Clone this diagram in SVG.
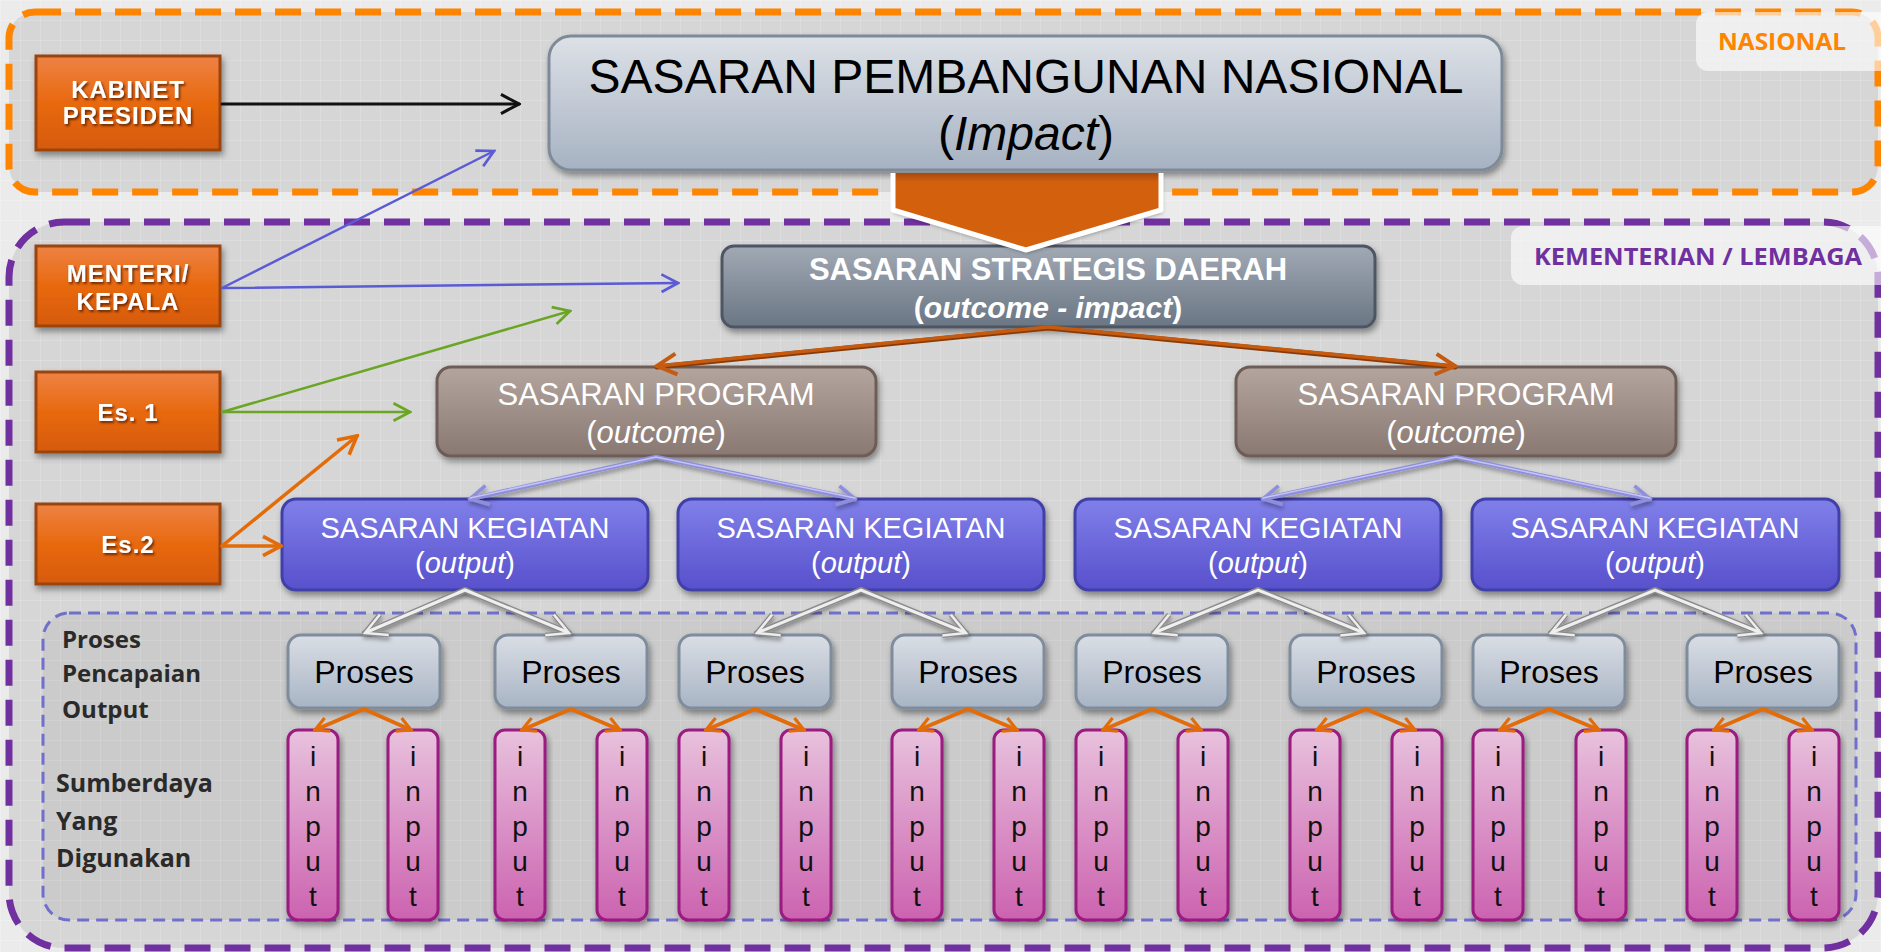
<svg xmlns="http://www.w3.org/2000/svg" width="1881" height="952" viewBox="0 0 1881 952">
<defs>
  <linearGradient id="gBig" x1="0" y1="0" x2="0" y2="1"><stop offset="0" stop-color="#dde1e7"/><stop offset="1" stop-color="#a6b2c2"/></linearGradient>
  <linearGradient id="gSSD" x1="0" y1="0" x2="0" y2="1"><stop offset="0" stop-color="#a1a9b4"/><stop offset="1" stop-color="#6a7684"/></linearGradient>
  <linearGradient id="gProg" x1="0" y1="0" x2="0" y2="1"><stop offset="0" stop-color="#b4a59e"/><stop offset="1" stop-color="#887871"/></linearGradient>
  <linearGradient id="gKeg" x1="0" y1="0" x2="0" y2="1"><stop offset="0" stop-color="#8080ea"/><stop offset="1" stop-color="#5850cc"/></linearGradient>
  <linearGradient id="gProc" x1="0" y1="0" x2="0" y2="1"><stop offset="0" stop-color="#dadee5"/><stop offset="1" stop-color="#a8b4c4"/></linearGradient>
  <linearGradient id="gIn" x1="0" y1="0" x2="0" y2="1"><stop offset="0" stop-color="#e8c2dd"/><stop offset="1" stop-color="#cc62b0"/></linearGradient>
  <linearGradient id="gOr" x1="0" y1="0" x2="0" y2="1"><stop offset="0" stop-color="#ee8244"/><stop offset="0.5" stop-color="#e8690f"/><stop offset="1" stop-color="#d65a08"/></linearGradient>
  <linearGradient id="gChev" x1="0" y1="0" x2="0" y2="1"><stop offset="0" stop-color="#a84a08"/><stop offset="0.12" stop-color="#d2600e"/><stop offset="1" stop-color="#d4620f"/></linearGradient>
  <pattern id="grid" width="20" height="20" patternUnits="userSpaceOnUse"><path d="M20 0H0V20" fill="none" stroke="#ffffff" stroke-opacity="0.35" stroke-width="1"/></pattern>
  <filter id="sh" x="-10%" y="-10%" width="125%" height="140%"><feDropShadow dx="2" dy="4" stdDeviation="3" flood-color="#000" flood-opacity="0.4"/></filter>
  <filter id="lsh" x="-10%" y="-20%" width="120%" height="160%"><feDropShadow dx="1" dy="3" stdDeviation="2" flood-color="#000" flood-opacity="0.35"/></filter>
  <filter id="tsh" x="-10%" y="-20%" width="120%" height="150%"><feDropShadow dx="1.5" dy="2" stdDeviation="1" flood-color="#4a1a00" flood-opacity="0.8"/></filter>
  <marker id="mBlack" viewBox="0 0 20 20" refX="18" refY="10" markerWidth="24" markerHeight="24" markerUnits="userSpaceOnUse" orient="auto"><path d="M3,2 L18,10 L3,18" fill="none" stroke="#111" stroke-width="2.5"/></marker>
  <marker id="mBlue" viewBox="0 0 20 20" refX="18" refY="10" markerWidth="22" markerHeight="22" markerUnits="userSpaceOnUse" orient="auto"><path d="M3,2 L18,10 L3,18" fill="none" stroke="#5b5bd6" stroke-width="2.5"/></marker>
  <marker id="mGreen" viewBox="0 0 20 20" refX="18" refY="10" markerWidth="22" markerHeight="22" markerUnits="userSpaceOnUse" orient="auto"><path d="M3,2 L18,10 L3,18" fill="none" stroke="#6aa624" stroke-width="2.5"/></marker>
  <marker id="mOr" viewBox="0 0 20 20" refX="18" refY="10" markerWidth="24" markerHeight="24" markerUnits="userSpaceOnUse" orient="auto"><path d="M3,2 L18,10 L3,18" fill="none" stroke="#e36c09" stroke-width="3"/></marker>
  <marker id="mOrS" viewBox="0 0 20 20" refX="18" refY="10" markerWidth="18" markerHeight="18" markerUnits="userSpaceOnUse" orient="auto"><path d="M3,2 L18,10 L3,18" fill="none" stroke="#e36c09" stroke-width="3.5"/></marker>
  <marker id="mBrown" viewBox="0 0 20 20" refX="18" refY="10" markerWidth="26" markerHeight="26" markerUnits="userSpaceOnUse" orient="auto"><path d="M3,2 L18,10 L3,18" fill="none" stroke="#c55a11" stroke-width="3"/></marker>
  <marker id="mLav" viewBox="0 0 20 20" refX="18" refY="10" markerWidth="24" markerHeight="24" markerUnits="userSpaceOnUse" orient="auto"><path d="M3,2 L18,10 L3,18" fill="none" stroke="#8e8edc" stroke-width="3"/></marker>
  <marker id="mSil" viewBox="0 0 20 20" refX="18" refY="10" markerWidth="28" markerHeight="28" markerUnits="userSpaceOnUse" orient="auto"><path d="M3,2 L18,10 L3,18" fill="none" stroke="#8a8a8a" stroke-width="3.6"/><path d="M3,2 L18,10 L3,18" fill="none" stroke="#ededed" stroke-width="1.8"/></marker>
</defs>
<style>
  .orng{fill:url(#gOr);stroke:#9b4510;stroke-width:3;filter:url(#sh)}
  .otxt{font-family:"Liberation Sans",Arial,sans-serif;font-weight:bold;font-size:24px;fill:#fff;text-anchor:middle;filter:url(#tsh);letter-spacing:1px}
  .lbl{font-family:"Open Sans","Liberation Sans",sans-serif;font-weight:bold;fill:#2a2a2a}
  .sans{font-family:"Liberation Sans",Arial,sans-serif;text-anchor:middle}
  .keg{fill:url(#gKeg);stroke:#4040a8;stroke-width:3;filter:url(#sh)}
  .prog{fill:url(#gProg);stroke:#6d5d57;stroke-width:3;filter:url(#sh)}
  .proc{fill:url(#gProc);stroke:#7f8c9c;stroke-width:3;filter:url(#sh)}
  .inp{fill:url(#gIn);stroke:#9a1a80;stroke-width:3;filter:url(#sh)}
  .wt{fill:#fff}
  .itxt{font-family:"Liberation Sans",Arial,sans-serif;font-size:28px;fill:#111;text-anchor:middle}
  .ln{fill:none;stroke-linecap:round}
</style>

<!-- background -->
<rect x="0" y="0" width="1881" height="952" fill="#ebebeb"/>
<rect x="9" y="12" width="1869" height="180" rx="26" fill="#d6d6d6"/>
<rect x="9" y="222" width="1869" height="726" rx="55" fill="#d6d6d6"/>
<rect x="0" y="0" width="1881" height="952" fill="url(#grid)"/>
<rect x="43" y="613" width="1813" height="307" rx="26" fill="#000" fill-opacity="0.05" stroke="#7070cc" stroke-width="3" stroke-dasharray="12 7"/>

<!-- regions -->
<g id="region-nasional">
  <rect x="9" y="12" width="1869" height="180" rx="26" fill="none" stroke="#ff8400" stroke-width="7" stroke-dasharray="26 14"/>
  <rect x="1696" y="12" width="200" height="59" rx="12" fill="#ffffff" fill-opacity="0.6"/>
  <text x="1782" y="50" font-family="'Open Sans','Liberation Sans',sans-serif" font-weight="bold" font-size="24" fill="#ff8400" text-anchor="middle" textLength="128" lengthAdjust="spacingAndGlyphs">NASIONAL</text>
</g>
<g id="region-kl">
  <rect x="9" y="222" width="1869" height="726" rx="55" fill="none" stroke="#7030a0" stroke-width="7" stroke-dasharray="26 14"/>
  <rect x="1511" y="226" width="390" height="59" rx="12" fill="#ffffff" fill-opacity="0.6"/>
  <text x="1698" y="265" font-family="'Open Sans','Liberation Sans',sans-serif" font-weight="bold" font-size="24" fill="#7030a0" text-anchor="middle" textLength="328" lengthAdjust="spacingAndGlyphs">KEMENTERIAN / LEMBAGA</text>
</g>

<!-- left actors -->
<g id="kabinet"><rect class="orng" x="36" y="56" width="184" height="94"/><text class="otxt" x="128" y="98">KABINET</text><text class="otxt" x="128" y="124">PRESIDEN</text></g>
<g id="menteri"><rect class="orng" x="36" y="246" width="184" height="80"/><text class="otxt" x="128" y="282">MENTERI/</text><text class="otxt" x="128" y="310">KEPALA</text></g>
<g id="es1"><rect class="orng" x="36" y="372" width="184" height="80"/><text class="otxt" x="128" y="421" font-size="26">Es. 1</text></g>
<g id="es2"><rect class="orng" x="36" y="504" width="184" height="80"/><text class="otxt" x="128" y="553" font-size="26">Es.2</text></g>

<!-- row labels -->
<g id="label-proses">
  <text class="lbl" x="62" y="648" font-size="24">Proses</text>
  <text class="lbl" x="62" y="682" font-size="24">Pencapaian</text>
  <text class="lbl" x="62" y="718" font-size="24">Output</text>
</g>
<g id="label-sumberdaya">
  <text class="lbl" x="56" y="792" font-size="25">Sumberdaya</text>
  <text class="lbl" x="56" y="830" font-size="25">Yang</text>
  <text class="lbl" x="56" y="867" font-size="25">Digunakan</text>
</g>

<!-- main nodes -->
<g id="sasaran-nasional">
  <rect x="549" y="36" width="953" height="134" rx="22" fill="url(#gBig)" stroke="#7f8a99" stroke-width="3" filter="url(#sh)"/>
  <text class="sans" x="1026" y="93" font-size="48" fill="#000">SASARAN PEMBANGUNAN NASIONAL</text>
  <text class="sans" x="1026" y="150" font-size="48" fill="#000">(<tspan font-style="italic">Impact</tspan>)</text>
</g>
<g id="sasaran-strategis">
  <rect x="722" y="246" width="653" height="81" rx="12" fill="url(#gSSD)" stroke="#4f5763" stroke-width="3" filter="url(#sh)"/>
  <text class="sans wt" x="1048" y="280" font-size="31" font-weight="bold">SASARAN STRATEGIS DAERAH</text>
  <text class="sans wt" x="1048" y="318" font-size="30" font-weight="bold">(<tspan font-style="italic">outcome - impact</tspan>)</text>
</g>
<g id="program-1">
  <rect class="prog" x="437" y="367" width="439" height="89" rx="14"/>
  <text class="sans wt" x="656" y="405" font-size="31">SASARAN PROGRAM</text>
  <text class="sans wt" x="656" y="443" font-size="31">(<tspan font-style="italic">outcome</tspan>)</text>
</g>
<g id="program-2">
  <rect class="prog" x="1236" y="367" width="440" height="89" rx="14"/>
  <text class="sans wt" x="1456" y="405" font-size="31">SASARAN PROGRAM</text>
  <text class="sans wt" x="1456" y="443" font-size="31">(<tspan font-style="italic">outcome</tspan>)</text>
</g>
<g id="kegiatan-1"><rect class="keg" x="282" y="499" width="366" height="91" rx="14"/><text class="sans wt" x="465" y="538" font-size="29">SASARAN KEGIATAN</text><text class="sans wt" x="465" y="573" font-size="29">(<tspan font-style="italic">output</tspan>)</text></g>
<g id="kegiatan-2"><rect class="keg" x="678" y="499" width="366" height="91" rx="14"/><text class="sans wt" x="861" y="538" font-size="29">SASARAN KEGIATAN</text><text class="sans wt" x="861" y="573" font-size="29">(<tspan font-style="italic">output</tspan>)</text></g>
<g id="kegiatan-3"><rect class="keg" x="1075" y="499" width="366" height="91" rx="14"/><text class="sans wt" x="1258" y="538" font-size="29">SASARAN KEGIATAN</text><text class="sans wt" x="1258" y="573" font-size="29">(<tspan font-style="italic">output</tspan>)</text></g>
<g id="kegiatan-4"><rect class="keg" x="1472" y="499" width="367" height="91" rx="14"/><text class="sans wt" x="1655" y="538" font-size="29">SASARAN KEGIATAN</text><text class="sans wt" x="1655" y="573" font-size="29">(<tspan font-style="italic">output</tspan>)</text></g>

<!-- proses -->
<g id="proses-1"><rect class="proc" x="288" y="635" width="152" height="73" rx="13"/><text class="sans" x="364" y="683" font-size="32" fill="#000">Proses</text></g>
<g id="proses-2"><rect class="proc" x="495" y="635" width="152" height="73" rx="13"/><text class="sans" x="571" y="683" font-size="32" fill="#000">Proses</text></g>
<g id="proses-3"><rect class="proc" x="679" y="635" width="152" height="73" rx="13"/><text class="sans" x="755" y="683" font-size="32" fill="#000">Proses</text></g>
<g id="proses-4"><rect class="proc" x="892" y="635" width="152" height="73" rx="13"/><text class="sans" x="968" y="683" font-size="32" fill="#000">Proses</text></g>
<g id="proses-5"><rect class="proc" x="1076" y="635" width="152" height="73" rx="13"/><text class="sans" x="1152" y="683" font-size="32" fill="#000">Proses</text></g>
<g id="proses-6"><rect class="proc" x="1290" y="635" width="152" height="73" rx="13"/><text class="sans" x="1366" y="683" font-size="32" fill="#000">Proses</text></g>
<g id="proses-7"><rect class="proc" x="1473" y="635" width="152" height="73" rx="13"/><text class="sans" x="1549" y="683" font-size="32" fill="#000">Proses</text></g>
<g id="proses-8"><rect class="proc" x="1687" y="635" width="152" height="73" rx="13"/><text class="sans" x="1763" y="683" font-size="32" fill="#000">Proses</text></g>

<!-- inputs -->
<g id="input-1"><rect class="inp" x="288" y="730" width="50" height="190" rx="10"/><text class="itxt" x="313"><tspan x="313" y="766">i</tspan><tspan x="313" y="801">n</tspan><tspan x="313" y="836">p</tspan><tspan x="313" y="871">u</tspan><tspan x="313" y="906">t</tspan></text></g>
<g id="input-2"><rect class="inp" x="388" y="730" width="50" height="190" rx="10"/><text class="itxt" x="413"><tspan x="413" y="766">i</tspan><tspan x="413" y="801">n</tspan><tspan x="413" y="836">p</tspan><tspan x="413" y="871">u</tspan><tspan x="413" y="906">t</tspan></text></g>
<g id="input-3"><rect class="inp" x="495" y="730" width="50" height="190" rx="10"/><text class="itxt" x="520"><tspan x="520" y="766">i</tspan><tspan x="520" y="801">n</tspan><tspan x="520" y="836">p</tspan><tspan x="520" y="871">u</tspan><tspan x="520" y="906">t</tspan></text></g>
<g id="input-4"><rect class="inp" x="597" y="730" width="50" height="190" rx="10"/><text class="itxt" x="622"><tspan x="622" y="766">i</tspan><tspan x="622" y="801">n</tspan><tspan x="622" y="836">p</tspan><tspan x="622" y="871">u</tspan><tspan x="622" y="906">t</tspan></text></g>
<g id="input-5"><rect class="inp" x="679" y="730" width="50" height="190" rx="10"/><text class="itxt" x="704"><tspan x="704" y="766">i</tspan><tspan x="704" y="801">n</tspan><tspan x="704" y="836">p</tspan><tspan x="704" y="871">u</tspan><tspan x="704" y="906">t</tspan></text></g>
<g id="input-6"><rect class="inp" x="781" y="730" width="50" height="190" rx="10"/><text class="itxt" x="806"><tspan x="806" y="766">i</tspan><tspan x="806" y="801">n</tspan><tspan x="806" y="836">p</tspan><tspan x="806" y="871">u</tspan><tspan x="806" y="906">t</tspan></text></g>
<g id="input-7"><rect class="inp" x="892" y="730" width="50" height="190" rx="10"/><text class="itxt" x="917"><tspan x="917" y="766">i</tspan><tspan x="917" y="801">n</tspan><tspan x="917" y="836">p</tspan><tspan x="917" y="871">u</tspan><tspan x="917" y="906">t</tspan></text></g>
<g id="input-8"><rect class="inp" x="994" y="730" width="50" height="190" rx="10"/><text class="itxt" x="1019"><tspan x="1019" y="766">i</tspan><tspan x="1019" y="801">n</tspan><tspan x="1019" y="836">p</tspan><tspan x="1019" y="871">u</tspan><tspan x="1019" y="906">t</tspan></text></g>
<g id="input-9"><rect class="inp" x="1076" y="730" width="50" height="190" rx="10"/><text class="itxt" x="1101"><tspan x="1101" y="766">i</tspan><tspan x="1101" y="801">n</tspan><tspan x="1101" y="836">p</tspan><tspan x="1101" y="871">u</tspan><tspan x="1101" y="906">t</tspan></text></g>
<g id="input-10"><rect class="inp" x="1178" y="730" width="50" height="190" rx="10"/><text class="itxt" x="1203"><tspan x="1203" y="766">i</tspan><tspan x="1203" y="801">n</tspan><tspan x="1203" y="836">p</tspan><tspan x="1203" y="871">u</tspan><tspan x="1203" y="906">t</tspan></text></g>
<g id="input-11"><rect class="inp" x="1290" y="730" width="50" height="190" rx="10"/><text class="itxt" x="1315"><tspan x="1315" y="766">i</tspan><tspan x="1315" y="801">n</tspan><tspan x="1315" y="836">p</tspan><tspan x="1315" y="871">u</tspan><tspan x="1315" y="906">t</tspan></text></g>
<g id="input-12"><rect class="inp" x="1392" y="730" width="50" height="190" rx="10"/><text class="itxt" x="1417"><tspan x="1417" y="766">i</tspan><tspan x="1417" y="801">n</tspan><tspan x="1417" y="836">p</tspan><tspan x="1417" y="871">u</tspan><tspan x="1417" y="906">t</tspan></text></g>
<g id="input-13"><rect class="inp" x="1473" y="730" width="50" height="190" rx="10"/><text class="itxt" x="1498"><tspan x="1498" y="766">i</tspan><tspan x="1498" y="801">n</tspan><tspan x="1498" y="836">p</tspan><tspan x="1498" y="871">u</tspan><tspan x="1498" y="906">t</tspan></text></g>
<g id="input-14"><rect class="inp" x="1576" y="730" width="50" height="190" rx="10"/><text class="itxt" x="1601"><tspan x="1601" y="766">i</tspan><tspan x="1601" y="801">n</tspan><tspan x="1601" y="836">p</tspan><tspan x="1601" y="871">u</tspan><tspan x="1601" y="906">t</tspan></text></g>
<g id="input-15"><rect class="inp" x="1687" y="730" width="50" height="190" rx="10"/><text class="itxt" x="1712"><tspan x="1712" y="766">i</tspan><tspan x="1712" y="801">n</tspan><tspan x="1712" y="836">p</tspan><tspan x="1712" y="871">u</tspan><tspan x="1712" y="906">t</tspan></text></g>
<g id="input-16"><rect class="inp" x="1789" y="730" width="50" height="190" rx="10"/><text class="itxt" x="1814"><tspan x="1814" y="766">i</tspan><tspan x="1814" y="801">n</tspan><tspan x="1814" y="836">p</tspan><tspan x="1814" y="871">u</tspan><tspan x="1814" y="906">t</tspan></text></g>

<!-- connectors -->
<g id="connectors">
  <!-- big chevron -->
  <polygon points="893,173 1161,173 1161,210 1026,250 893,210" fill="url(#gChev)" filter="url(#lsh)"/>
  <polyline points="893,173 893,210 1026,250 1161,210 1161,173" fill="none" stroke="#ffffff" stroke-width="5" stroke-linejoin="round"/>
  <!-- actors -->
  <line class="ln" x1="222" y1="104" x2="519" y2="104" stroke="#111" stroke-width="3" marker-end="url(#mBlack)"/>
  <line class="ln" x1="222" y1="288" x2="494" y2="151" stroke="#5b5bd6" stroke-width="2.5" marker-end="url(#mBlue)"/>
  <line class="ln" x1="222" y1="288" x2="678" y2="283" stroke="#5b5bd6" stroke-width="2.5" marker-end="url(#mBlue)"/>
  <line class="ln" x1="222" y1="412" x2="570" y2="311" stroke="#6aa624" stroke-width="2.5" marker-end="url(#mGreen)"/>
  <line class="ln" x1="222" y1="412" x2="410" y2="412" stroke="#6aa624" stroke-width="2.5" marker-end="url(#mGreen)"/>
  <line class="ln" x1="222" y1="546" x2="357" y2="436" stroke="#e36c09" stroke-width="3.5" marker-end="url(#mOr)"/>
  <line class="ln" x1="222" y1="546" x2="281" y2="546" stroke="#e36c09" stroke-width="3.5" marker-end="url(#mOr)"/>
  <!-- strategis to program -->
  <polyline class="ln" points="657,367 1048,328 1455,367" stroke="#8a3a05" stroke-width="5"/>
  <line class="ln" x1="1048" y1="327" x2="657" y2="366" stroke="#c55a11" stroke-width="3.5" marker-end="url(#mBrown)"/>
  <line class="ln" x1="1048" y1="327" x2="1455" y2="366" stroke="#c55a11" stroke-width="3.5" marker-end="url(#mBrown)"/>
  <!-- program to kegiatan -->
  <g filter="url(#lsh)">
    <line class="ln" x1="656" y1="457" x2="470" y2="499" stroke="#8e8edc" stroke-width="4.5" marker-end="url(#mLav)"/>
    <line class="ln" x1="656" y1="457" x2="855" y2="499" stroke="#8e8edc" stroke-width="4.5" marker-end="url(#mLav)"/>
    <line class="ln" x1="1456" y1="457" x2="1263" y2="499" stroke="#8e8edc" stroke-width="4.5" marker-end="url(#mLav)"/>
    <line class="ln" x1="1456" y1="457" x2="1650" y2="499" stroke="#8e8edc" stroke-width="4.5" marker-end="url(#mLav)"/>
  </g>
  <g stroke="#c4c4f2" stroke-width="1.5">
    <polyline class="ln" points="470,498 656,457 855,498"/>
    <polyline class="ln" points="1263,498 1456,457 1650,498"/>
  </g>
  <!-- kegiatan to proses -->
  <g stroke="#8a8a8a" stroke-width="6" filter="url(#lsh)">
    <line class="ln" x1="465" y1="590" x2="365" y2="633" marker-end="url(#mSil)"/>
    <line class="ln" x1="465" y1="590" x2="569" y2="633" marker-end="url(#mSil)"/>
    <line class="ln" x1="861" y1="590" x2="757" y2="633" marker-end="url(#mSil)"/>
    <line class="ln" x1="861" y1="590" x2="966" y2="633" marker-end="url(#mSil)"/>
    <line class="ln" x1="1258" y1="590" x2="1154" y2="633" marker-end="url(#mSil)"/>
    <line class="ln" x1="1258" y1="590" x2="1364" y2="633" marker-end="url(#mSil)"/>
    <line class="ln" x1="1655" y1="590" x2="1551" y2="633" marker-end="url(#mSil)"/>
    <line class="ln" x1="1655" y1="590" x2="1761" y2="633" marker-end="url(#mSil)"/>
  </g>
  <g stroke="#efefef" stroke-width="3">
    <polyline class="ln" points="367,632 465,590 567,632"/>
    <polyline class="ln" points="759,632 861,590 964,632"/>
    <polyline class="ln" points="1156,632 1258,590 1362,632"/>
    <polyline class="ln" points="1553,632 1655,590 1759,632"/>
  </g>
  <!-- proses to inputs -->
  <g stroke="#e36c09" stroke-width="4">
    <line class="ln" x1="364" y1="709" x2="315" y2="730" marker-end="url(#mOrS)"/>
    <line class="ln" x1="364" y1="709" x2="411" y2="730" marker-end="url(#mOrS)"/>
    <line class="ln" x1="571" y1="709" x2="522" y2="730" marker-end="url(#mOrS)"/>
    <line class="ln" x1="571" y1="709" x2="620" y2="730" marker-end="url(#mOrS)"/>
    <line class="ln" x1="755" y1="709" x2="706" y2="730" marker-end="url(#mOrS)"/>
    <line class="ln" x1="755" y1="709" x2="804" y2="730" marker-end="url(#mOrS)"/>
    <line class="ln" x1="968" y1="709" x2="919" y2="730" marker-end="url(#mOrS)"/>
    <line class="ln" x1="968" y1="709" x2="1017" y2="730" marker-end="url(#mOrS)"/>
    <line class="ln" x1="1152" y1="709" x2="1103" y2="730" marker-end="url(#mOrS)"/>
    <line class="ln" x1="1152" y1="709" x2="1201" y2="730" marker-end="url(#mOrS)"/>
    <line class="ln" x1="1366" y1="709" x2="1317" y2="730" marker-end="url(#mOrS)"/>
    <line class="ln" x1="1366" y1="709" x2="1415" y2="730" marker-end="url(#mOrS)"/>
    <line class="ln" x1="1549" y1="709" x2="1500" y2="730" marker-end="url(#mOrS)"/>
    <line class="ln" x1="1549" y1="709" x2="1599" y2="730" marker-end="url(#mOrS)"/>
    <line class="ln" x1="1763" y1="709" x2="1714" y2="730" marker-end="url(#mOrS)"/>
    <line class="ln" x1="1763" y1="709" x2="1812" y2="730" marker-end="url(#mOrS)"/>
  </g>
</g>
</svg>
